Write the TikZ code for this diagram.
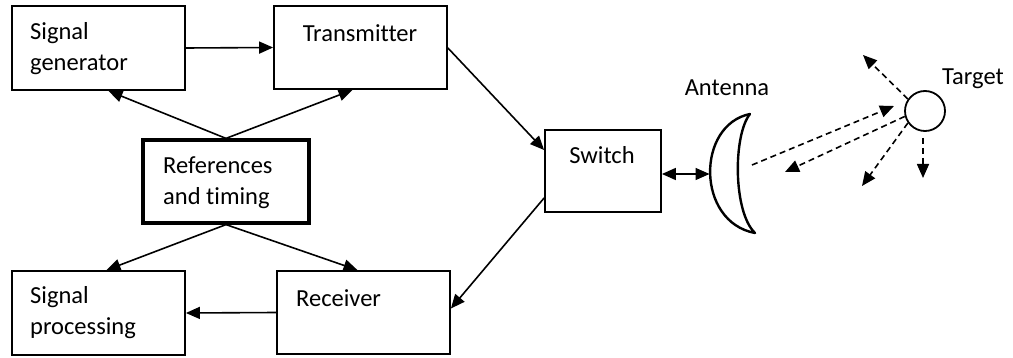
\documentclass[tikz,border=0pt]{standalone}
\usepackage{fontspec}
\setmainfont[Ligatures=CommonOff]{Carlito}
\usetikzlibrary{arrows.meta,calc}
\tikzset{
  box/.style={draw, line width=1.8pt, inner sep=0pt},
  thickbox/.style={draw, line width=3.2pt, inner sep=0pt},
  lbl/.style={inner sep=0pt, align=left, font=\fontsize{24.5pt}{31pt}\selectfont},
  arr/.style={line width=1.6pt, -{Triangle[length=14pt,width=12pt]}},
  darr/.style={line width=1.6pt, {Triangle[length=14pt,width=12pt]}-{Triangle[length=14pt,width=12pt]}},
  dsh/.style={line width=1.6pt, dash pattern=on 6pt off 4pt, -{Triangle[length=14pt,width=12pt]}}
}
\begin{document}
\begin{tikzpicture}[x=1pt,y=-1pt]
\useasboundingbox (0,0) rectangle (1013,358);
% boxes
\node[box, minimum width=173pt, minimum height=84pt] (sg) at (98.5,48) {};
\node[box, minimum width=173pt, minimum height=83pt] (tx) at (360.5,47.5) {};
\node[thickbox, minimum width=166pt, minimum height=83pt] (ref) at (226,181.5) {};
\node[box, minimum width=173pt, minimum height=84pt] (sp) at (98.5,313) {};
\node[box, minimum width=173pt, minimum height=83pt] (rx) at (363.5,312.5) {};
\node[box, minimum width=116pt, minimum height=82pt] (sw) at (603,171) {};
% texts
\node[lbl, anchor=west] (sgt) at (30,48.5) {Signal\\generator};
\node[lbl] (txt) at (360,33) {Transmitter};
\node[lbl, anchor=west] (reft) at (163,182.5) {References\\and timing};
\node[lbl, anchor=west] (spt) at (30,313) {Signal\\processing};
\node[lbl, anchor=west] (rxt) at (296,298) {Receiver};
\node[lbl] (swt) at (602,155) {Switch};
\node[lbl] (antt) at (727,88) {Antenna};
\node[lbl] (tgt) at (973,79) {Target};
% connectors
\draw[arr] (sg.east) -- (tx.west);
\draw[arr] (ref.north) -- ($(sg.south)+(10,0)$);
\draw[arr] (ref.north) -- ($(tx.south)+(-8,0)$);
\draw[arr] (ref.south) -- ($(sp.north)+(8,0)$);
\draw[arr] (ref.south) -- ($(rx.north)+(-6,0)$);
\draw[arr] (rx.west) -- (sp.east);
\draw[arr] ($(tx.east)+(0,0.5)$) -- ($(sw.west)+(0,-21)$);
\draw[arr] ($(sw.west)+(0,27)$) -- ($(rx.east)+(0,-4)$);
% antenna
\draw[line width=2.4pt, line join=round] (750,114) .. controls (696,125) and (696,222) .. (755,233)
   .. controls (733,212) and (733,135) .. cycle;
\coordinate (ant) at (709.5,174);
\draw[darr] (sw.east |- ant) -- (ant);
% target
\node[draw, circle, line width=1.8pt, minimum size=40pt, inner sep=0pt] (tg) at (925,111) {};
\coordinate (a1) at (752,165);
\coordinate (t1) at (894,106);
\coordinate (t2) at (785,172);
\coordinate (t3) at (863,55);
\coordinate (t4) at (862,186);
\coordinate (t5) at (923,178);
\draw[dsh] (a1) -- (t1);
\draw[dsh] (tg.195) -- (t2);
\draw[dsh] (tg.145) -- (t3);
\draw[dsh] (tg.215) -- (t4);
\draw[dsh] ($(tg.south)+(-2,6)$) -- (t5);
\end{tikzpicture}
\end{document}
